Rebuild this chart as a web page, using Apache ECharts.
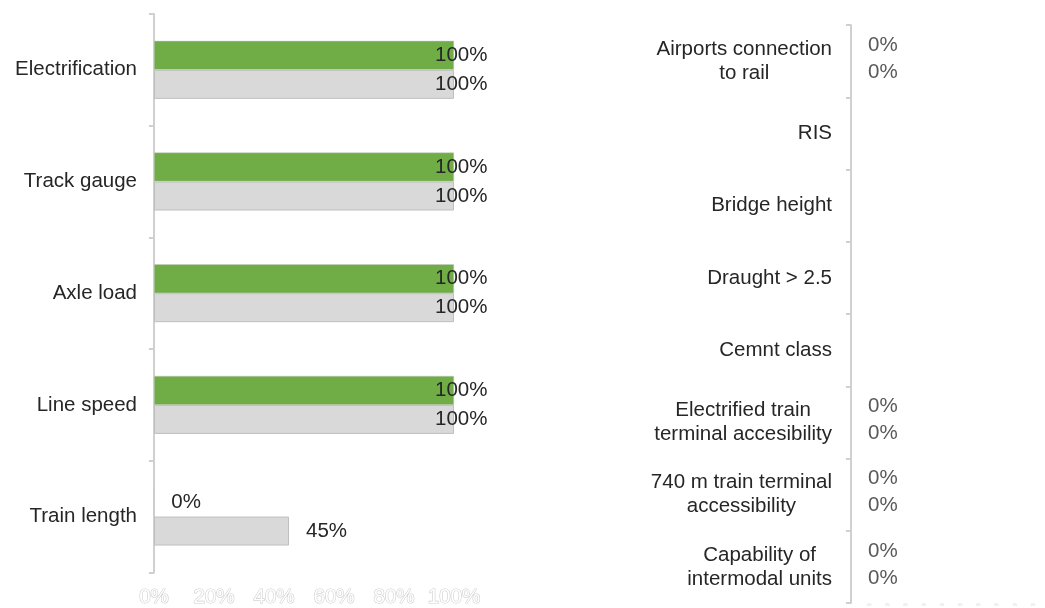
<!DOCTYPE html>
<html>
<head>
<meta charset="utf-8">
<script src="https://cdn.jsdelivr.net/npm/echarts@6/dist/echarts.min.js"></script>
<style>html,body{margin:0;padding:0;background:#fff}#c{width:1045px;height:608px}</style>
</head>
<body>
<div id="c"></div>
<script>
const leftCategories = ['Electrification', 'Track gauge', 'Axle load', 'Line speed', 'Train length'];
const leftGreen = [100, 100, 100, 100, 0];
const leftGrey = [100, 100, 100, 100, 45];
const leftTicks = [0, 20, 40, 60, 80, 100];

const rightCategories = ['Airports connection\nto rail', 'RIS', 'Bridge height', 'Draught > 2.5', 'Cemnt class',
  'Electrified train\nterminal accesibility', '740 m train terminal\naccessibility', 'Capability of\nintermodal units'];
const rightGreen = [0, null, null, null, null, 0, 0, 0];
const rightGrey = [0, null, null, null, null, 0, 0, 0];

const FONT = 'Liberation Sans, Arial, sans-serif';
const FS = 20.5;
const TXT = '#262626';
const chart = echarts.init(document.getElementById('c'));

function leftLabelData(arr) {
  return arr.map(v => ({
    value: v,
    label: v >= 100 ? { offset: [-36, 0] } : {}
  }));
}

function catLabelFormatter(v) {
  return v.split('\n').map(s => '{c|' + s + '}').join('\n');
}

const axisLineStyle = { color: '#d0d0d0', width: 2 };

chart.setOption({
  animation: false,
  grid: [
    { left: 154, top: 14, width: 300, bottom: 33, containLabel: false },
    { left: 851, top: 25, width: 182, bottom: 5, containLabel: false }
  ],
  xAxis: [
    {
      gridIndex: 0, type: 'value', min: 0, max: 100, interval: 20,
      axisLine: { show: false }, axisTick: { show: false }, splitLine: { show: false },
      axisLabel: {
        formatter: v => v + '%', fontFamily: FONT, fontSize: FS, color: '#ffffff',
        textBorderColor: '#cfcfcf', textBorderWidth: 1.2, margin: 14
      }
    },
    {
      gridIndex: 1, type: 'value', min: 0, max: 1, interval: 0.1,
      axisLine: { show: false }, axisTick: { show: false }, splitLine: { show: false },
      axisLabel: { formatter: () => '0%', fontFamily: FONT, fontSize: 3, color: '#d0d0d0', margin: 1, showMinLabel: false }
    }
  ],
  yAxis: [
    {
      gridIndex: 0, type: 'category', data: leftCategories, inverse: true,
      axisLine: { show: true, lineStyle: axisLineStyle },
      axisTick: { show: true, length: 5, lineStyle: axisLineStyle },
      axisLabel: { fontFamily: FONT, fontSize: FS, color: TXT, margin: 17 }
    },
    {
      gridIndex: 1, type: 'category', data: rightCategories, inverse: true,
      axisLine: { show: true, lineStyle: axisLineStyle },
      axisTick: { show: true, length: 5, lineStyle: axisLineStyle },
      axisLabel: {
        fontFamily: FONT, fontSize: FS, color: TXT, margin: 19, lineHeight: 24,
        formatter: catLabelFormatter,
        rich: { c: { align: 'center', fontFamily: FONT, fontSize: FS, color: TXT, lineHeight: 24 } }
      }
    }
  ],
  series: [
    {
      type: 'bar', xAxisIndex: 0, yAxisIndex: 0, data: leftLabelData(leftGreen),
      barWidth: 29, barGap: '0%',
      itemStyle: { color: '#70ad47', borderColor: '#c9c9c9', borderWidth: 0.5 },
      label: { show: true, position: 'right', distance: 17, formatter: p => p.value + '%', fontFamily: FONT, fontSize: FS, color: TXT }
    },
    {
      type: 'bar', xAxisIndex: 0, yAxisIndex: 0, data: leftLabelData(leftGrey),
      barWidth: 29, barGap: '0%',
      itemStyle: { color: '#d9d9d9', borderColor: '#bfbfbf', borderWidth: 1 },
      label: { show: true, position: 'right', distance: 17, formatter: p => p.value + '%', fontFamily: FONT, fontSize: FS, color: TXT }
    },
    {
      type: 'bar', xAxisIndex: 1, yAxisIndex: 1, data: rightGreen,
      barWidth: 22, barGap: '0%',
      itemStyle: { color: '#70ad47' },
      label: { show: true, position: 'right', distance: 17, offset: [0, -5], formatter: p => p.value + '%', fontFamily: FONT, fontSize: FS, color: '#595959' }
    },
    {
      type: 'bar', xAxisIndex: 1, yAxisIndex: 1, data: rightGrey,
      barWidth: 22, barGap: '0%',
      itemStyle: { color: '#d9d9d9' },
      label: { show: true, position: 'right', distance: 17, formatter: p => p.value + '%', fontFamily: FONT, fontSize: FS, color: '#595959' }
    }
  ]
});
</script>
</body>
</html>
